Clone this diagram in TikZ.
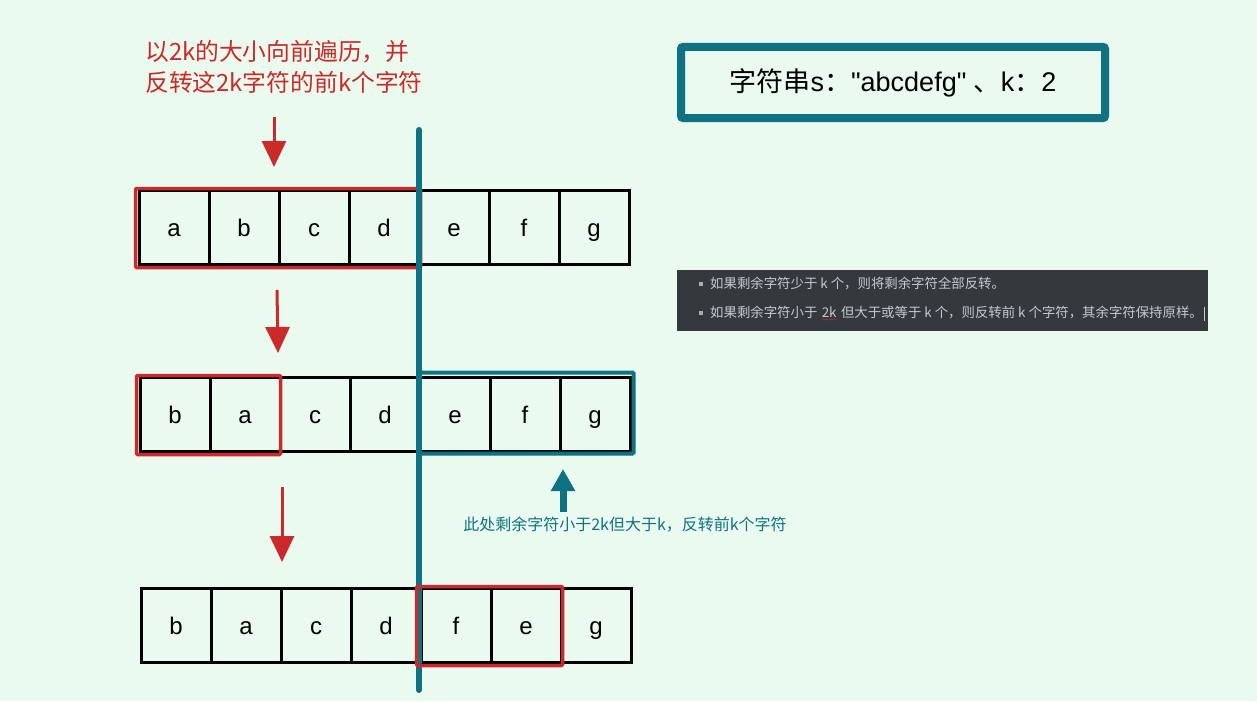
\documentclass[tikz,border=0pt]{standalone}
\usepackage{fontspec}
\setmainfont{Liberation Sans}
\newfontfamily\cjk{Noto Sans CJK SC}
\usepackage{tikz}
\usetikzlibrary{arrows.meta,positioning,decorations.pathmorphing}
\definecolor{bgmint}{RGB}{234,250,238}
\definecolor{tealline}{RGB}{14,114,130}
\definecolor{markred}{RGB}{204,42,42}
\definecolor{hintbg}{RGB}{53,57,62}
\definecolor{hintfg}{RGB}{196,202,208}

\begin{document}
\begin{tikzpicture}
    [x=1pt,y=-1pt,
     cell/.style={draw=black,line width=3pt,minimum width=70pt,minimum height=74pt,inner sep=0pt,
       text height=19pt,text depth=0pt,font=\fontsize{24}{28}\selectfont},
     redbox/.style={draw=markred,line width=3.5pt,rounded corners=1pt},
     tealbox/.style={draw=tealline,line width=4pt,rounded corners=1pt},
     redarrow/.style={markred,line width=3pt,-{Triangle[width=24pt,length=26pt]}},
     tealarrow/.style={tealline,line width=7pt,-{Triangle[width=23pt,length=22pt]}},
     hinttxt/.style={hintfg,inner sep=0pt,text height=10pt,text depth=3pt,font=\cjk\fontsize{13.4}{15}\selectfont},
     bullet/.style={fill=hintfg!80!hintbg,inner sep=0pt,minimum size=4pt}]
    \fill[bgmint] (0,0) rectangle (1257,701);
    \useasboundingbox (0,0) rectangle (1257,701);

    % title and note
    \node[draw=tealline,line width=8pt,rounded corners=2pt,minimum width=424pt,minimum height=71pt,
      font=\fontsize{27}{32}\selectfont] (title) at (893,82.5)
      {{\cjk 字符串}s{\cjk ：}\textquotedbl abcdefg\textquotedbl\ {\cjk 、}k{\cjk ：}2};
    \node[markred,anchor=west,align=left,inner sep=0pt,font=\cjk\fontsize{23.8}{31}\selectfont] (note) at (145,67)
      {以2k的大小向前遍历，并\\反转这2k字符的前k个字符};

    % the three rows
    \foreach \ch [count=\i] in {a,b,c,d,e,f,g}
      \node[cell] (r1n\i) at (104+70*\i,227) {\ch};
    \foreach \ch [count=\i] in {b,a,c,d,e,f,g}
      \node[cell] (r2n\i) at (105+70*\i,414) {\ch};
    \foreach \ch [count=\i] in {b,a,c,d,f,e,g}
      \node[cell] (r3n\i) at (106+70*\i,625) {\ch};

    \draw[redbox] ([xshift=-2pt]r1n1.north west) rectangle ([yshift=-2pt]r1n4.south east);
    \draw[redbox] ([xshift=-2pt]r2n1.north west) rectangle ([xshift=-1pt,yshift=-2pt]r2n2.south east);
    \draw[tealbox] ([yshift=3pt]r2n5.north west) rectangle ([xshift=2pt,yshift=-1pt]r2n7.south east);

    \coordinate (top) at (419,130);
    \coordinate (bot) at (419,690);
    \draw[tealline,line width=6pt,line cap=round] (top) -- (bot);

    \draw[redbox] ([xshift=-3pt]r3n5.north west) rectangle ([yshift=-2pt]r3n6.south east);

    % arrows
    \coordinate (s1) at (274,117); \coordinate (t1) at (274,167);
    \coordinate (s2) at (277,290); \coordinate (t2) at (278,353);
    \coordinate (s3) at (282,487); \coordinate (t3) at (282,562);
    \foreach \from/\to in {s1/t1,s2/t2,s3/t3}
      \draw[redarrow] (\from) -- (\to);
    \coordinate (u1) at (563,512); \coordinate (u2) at (563,469);
    \draw[tealarrow] (u1) -- (u2);
    \node[tealline,font=\cjk\fontsize{16}{18}\selectfont] (remark) at (625,525)
      {此处剩余字符小于2k但大于k，反转前k个字符};

    % dark hint box
    \node[fill=hintbg,anchor=north west,minimum width=531pt,minimum height=61pt,inner sep=0pt] (hint) at (677,270) {};
    \node[bullet] (b1) at (701,284) {};
    \node[bullet] (b2) at (701,313) {};
    \node[hinttxt,anchor=west] (h1) at (710,285) {如果剩余字符少于 k 个，则将剩余字符全部反转。};
    \node[hinttxt,anchor=west] (h2a) at (710,314) {如果剩余字符小于};
    \node[hinttxt,right=4pt of h2a] (h2k) {2k};
    \node[hinttxt,right=4pt of h2k] (h2b) {但大于或等于 k 个，则反转前 k 个字符，其余字符保持原样。};
    \draw[markred,decorate,decoration={snake,amplitude=0.7pt,segment length=3pt}]
      ([yshift=-2pt]h2k.base west) -- ([yshift=-2pt]h2k.base east);
    \draw[hintfg,line width=0.8pt] ([xshift=1.5pt]h2b.north east) -- ([xshift=1.5pt]h2b.south east);
\end{tikzpicture}
\end{document}
